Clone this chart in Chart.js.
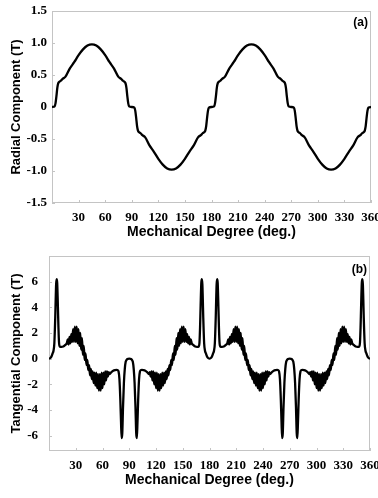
<!DOCTYPE html>
<html>
<head>
<meta charset="utf-8">
<script src="https://cdn.jsdelivr.net/npm/chart.js@4.4.1/dist/chart.umd.min.js"></script>
<style>
  html, body { margin: 0; padding: 0; background: #fff; }
  #wrap { position: relative; width: 378px; height: 498px; }
  canvas { position: absolute; left: 0; }
  #radial { top: 0; }
  #tangential { top: 249px; }
</style>
</head>
<body>
<div id="wrap">
  <canvas id="radial" width="378" height="249"></canvas>
  <canvas id="tangential" width="378" height="249"></canvas>
</div>
<script>
// x ticks shared by both panels
const degTicks = [30, 60, 90, 120, 150, 180, 210, 240, 270, 300, 330, 360];

// (a) radial component
const radialTicks = [-1.5, -1, -0.5, 0, 0.5, 1, 1.5];
const radialDeg = [
  0, 3, 4, 5, 6, 7, 8, 10, 12, 15, 20, 25, 30, 35, 40, 45, 50, 55, 60, 65, 70, 75, 78, 80, 82, 83, 84, 85, 86, 87, 90,
  93, 94, 95, 96, 97, 98, 100, 102, 105, 110, 115, 120, 125, 130, 135, 140, 145, 150, 155, 160, 165, 168, 170, 172, 173, 174, 175, 176, 177, 180,
  183, 184, 185, 186, 187, 188, 190, 192, 195, 200, 205, 210, 215, 220, 225, 230, 235, 240, 245, 250, 255, 258, 260, 262, 263, 264, 265, 266, 267, 270,
  273, 274, 275, 276, 277, 278, 280, 282, 285, 290, 295, 300, 305, 310, 315, 320, 325, 330, 335, 340, 345, 348, 350, 352, 353, 354, 355, 356, 357, 360
];
const radialVal = [
  0, 0.01, 0.06, 0.17, 0.3, 0.37, 0.39, 0.41, 0.44, 0.47, 0.6, 0.7, 0.81, 0.9, 0.96, 0.98, 0.96, 0.9, 0.81, 0.7, 0.6, 0.47, 0.44, 0.41, 0.39, 0.37, 0.3, 0.17, 0.06, 0.01, 0,
  -0.01, -0.06, -0.17, -0.3, -0.37, -0.39, -0.41, -0.44, -0.47, -0.6, -0.7, -0.81, -0.9, -0.96, -0.98, -0.96, -0.9, -0.81, -0.7, -0.6, -0.47, -0.44, -0.41, -0.39, -0.37, -0.3, -0.17, -0.06, -0.01, 0,
  0.01, 0.06, 0.17, 0.3, 0.37, 0.39, 0.41, 0.44, 0.47, 0.6, 0.7, 0.81, 0.9, 0.96, 0.98, 0.96, 0.9, 0.81, 0.7, 0.6, 0.47, 0.44, 0.41, 0.39, 0.37, 0.3, 0.17, 0.06, 0.01, 0,
  -0.01, -0.06, -0.17, -0.3, -0.37, -0.39, -0.41, -0.44, -0.47, -0.6, -0.7, -0.81, -0.9, -0.96, -0.98, -0.96, -0.9, -0.81, -0.7, -0.6, -0.47, -0.44, -0.41, -0.39, -0.37, -0.3, -0.17, -0.06, -0.01, 0
];

// (b) tangential component (ripple bands read as up/down envelope points)
const tanTicks = [-6, -4, -2, 0, 2, 4, 6];
const tanDeg = [
  0, 1, 2, 3, 4, 5, 6, 7, 7.5, 8, 8.6, 9.2, 10, 10.6, 11.2, 12, 14, 16, 18, 20,
  21, 22, 23, 24, 25, 26, 27, 28, 29, 30, 31, 32, 33, 34, 35, 36, 37, 38, 39, 40, 41, 42, 43, 44,
  45, 46, 47, 48, 49, 50, 51, 52, 53, 54, 55, 56, 57, 58, 59, 60, 61, 62, 63, 64, 65, 66, 67, 68,
  70, 72, 74, 76, 77, 78, 79, 80, 80.8, 81.5, 82.2, 83, 84, 85, 86, 87, 88, 90,
  92, 93, 94, 95, 96, 97, 97.8, 98.5, 99.2, 100, 101, 102, 103, 104, 106, 108, 110,
  112, 113, 114, 115, 116, 117, 118, 119, 120, 121, 122, 123, 124, 125, 126, 127, 128, 129, 130, 131, 132, 133, 134, 135,
  136, 137, 138, 139, 140, 141, 142, 143, 144, 145, 146, 147, 148, 149, 150, 151, 152, 153, 154, 155, 156, 157, 158, 159,
  160, 162, 164, 166, 168, 168.8, 169.4, 170, 170.8, 171.4, 172, 172.5, 173, 174, 175, 176, 177, 178, 179, 180,
  181, 182, 183, 184, 185, 186, 187, 187.5, 188, 188.6, 189.2, 190, 190.6, 191.2, 192, 194, 196, 198, 200,
  201, 202, 203, 204, 205, 206, 207, 208, 209, 210, 211, 212, 213, 214, 215, 216, 217, 218, 219, 220, 221, 222, 223, 224,
  225, 226, 227, 228, 229, 230, 231, 232, 233, 234, 235, 236, 237, 238, 239, 240, 241, 242, 243, 244, 245, 246, 247, 248,
  250, 252, 254, 256, 257, 258, 259, 260, 260.8, 261.5, 262.2, 263, 264, 265, 266, 267, 268, 270,
  272, 273, 274, 275, 276, 277, 277.8, 278.5, 279.2, 280, 281, 282, 283, 284, 286, 288, 290,
  292, 293, 294, 295, 296, 297, 298, 299, 300, 301, 302, 303, 304, 305, 306, 307, 308, 309, 310, 311, 312, 313, 314, 315,
  316, 317, 318, 319, 320, 321, 322, 323, 324, 325, 326, 327, 328, 329, 330, 331, 332, 333, 334, 335, 336, 337, 338, 339,
  340, 342, 344, 346, 348, 348.8, 349.4, 350, 350.8, 351.4, 352, 352.5, 353, 354, 355, 356, 357, 358, 359, 360
];
const tanVal = [
  0, 0.02, 0.08, 0.2, 0.4, 0.6, 1.2, 3.2, 4.6, 5.8, 6.2, 5.9, 4.0, 2.4, 1.3, 0.95, 0.92, 0.95, 1.05, 1.2,
  1.5, 1.1, 1.7, 1.2, 1.9, 1.3, 2.3, 1.3, 2.5, 1.3, 2.5, 1.2, 2.3, 1.0, 2.0, 0.7, 1.6, 0.3, 1.0, -0.1, 0.4, -0.5, -0.1, -0.9,
  -0.5, -1.3, -0.8, -1.6, -1.0, -1.9, -1.1, -2.1, -1.1, -2.3, -1.2, -2.5, -1.2, -2.5, -1.1, -2.3, -1.1, -2.0, -1.0, -1.7, -1.0, -1.4, -1.05, -1.2,
  -1.05, -0.95, -0.9, -0.88, -0.9, -1.0, -1.6, -3.2, -5.0, -6.2, -5.8, -3.8, -1.9, -0.8, -0.25, -0.1, -0.03, 0,
  -0.03, -0.1, -0.25, -0.8, -1.9, -3.8, -5.8, -6.2, -5.0, -3.2, -1.6, -1.0, -0.9, -0.88, -0.9, -0.95, -1.05,
  -1.2, -1.05, -1.4, -1.0, -1.7, -1.0, -2.0, -1.1, -2.3, -1.1, -2.5, -1.2, -2.5, -1.2, -2.3, -1.1, -2.1, -1.1, -1.9, -1.0, -1.6, -0.8, -1.3, -0.5,
  -0.9, -0.1, -0.5, 0.4, -0.1, 1.0, 0.3, 1.6, 0.7, 2.0, 1.0, 2.3, 1.2, 2.5, 1.3, 2.5, 1.3, 2.3, 1.3, 1.9, 1.2, 1.7, 1.1, 1.5,
  1.2, 1.05, 0.95, 0.92, 0.95, 1.3, 2.4, 4.0, 5.9, 6.2, 5.8, 4.6, 3.2, 1.2, 0.6, 0.4, 0.2, 0.08, 0.02, 0,
  0.02, 0.08, 0.2, 0.4, 0.6, 1.2, 3.2, 4.6, 5.8, 6.2, 5.9, 4.0, 2.4, 1.3, 0.95, 0.92, 0.95, 1.05, 1.2,
  1.5, 1.1, 1.7, 1.2, 1.9, 1.3, 2.3, 1.3, 2.5, 1.3, 2.5, 1.2, 2.3, 1.0, 2.0, 0.7, 1.6, 0.3, 1.0, -0.1, 0.4, -0.5, -0.1, -0.9,
  -0.5, -1.3, -0.8, -1.6, -1.0, -1.9, -1.1, -2.1, -1.1, -2.3, -1.2, -2.5, -1.2, -2.5, -1.1, -2.3, -1.1, -2.0, -1.0, -1.7, -1.0, -1.4, -1.05, -1.2,
  -1.05, -0.95, -0.9, -0.88, -0.9, -1.0, -1.6, -3.2, -5.0, -6.2, -5.8, -3.8, -1.9, -0.8, -0.25, -0.1, -0.03, 0,
  -0.03, -0.1, -0.25, -0.8, -1.9, -3.8, -5.8, -6.2, -5.0, -3.2, -1.6, -1.0, -0.9, -0.88, -0.9, -0.95, -1.05,
  -1.2, -1.05, -1.4, -1.0, -1.7, -1.0, -2.0, -1.1, -2.3, -1.1, -2.5, -1.2, -2.5, -1.2, -2.3, -1.1, -2.1, -1.1, -1.9, -1.0, -1.6, -0.8, -1.3, -0.5,
  -0.9, -0.1, -0.5, 0.4, -0.1, 1.0, 0.3, 1.6, 0.7, 2.0, 1.0, 2.3, 1.2, 2.5, 1.3, 2.5, 1.3, 2.3, 1.3, 1.9, 1.2, 1.7, 1.1, 1.5,
  1.2, 1.05, 0.95, 0.92, 0.95, 1.3, 2.4, 4.0, 5.9, 6.2, 5.8, 4.6, 3.2, 1.2, 0.6, 0.4, 0.2, 0.08, 0.02, 0
];

const serif = '"Liberation Serif", "Times New Roman", serif';
const sans = '"Liberation Sans", Arial, sans-serif';

// box, inward tick marks and the panel tag
const framePlugin = {
  id: 'frame',
  beforeDatasetsDraw(chart, args, opts) {
    const { ctx, chartArea: a, scales: { x, y } } = chart;
    ctx.save();
    ctx.strokeStyle = '#c4c4c4';
    ctx.lineWidth = 1;
    ctx.strokeRect(a.left + 0.5, a.top + 0.5, a.right - a.left - 1, a.bottom - a.top - 1);
    ctx.beginPath();
    degTicks.forEach((v) => {
      const px = Math.round(x.getPixelForValue(v)) + 0.5;
      ctx.moveTo(px, a.bottom);
      ctx.lineTo(px, a.bottom - 3);
    });
    y.ticks.forEach((t) => {
      const py = Math.round(y.getPixelForValue(t.value)) + 0.5;
      ctx.moveTo(a.left, py);
      ctx.lineTo(a.left + 3, py);
    });
    ctx.stroke();
    ctx.restore();
  },
  afterDraw(chart, args, opts) {
    const { ctx, chartArea: a } = chart;
    ctx.save();
    ctx.fillStyle = '#000';
    ctx.font = 'bold 12px ' + sans;
    ctx.textAlign = 'right';
    ctx.textBaseline = 'middle';
    ctx.fillText(opts.tag, a.right - 3, a.top + opts.tagY);
    ctx.restore();
  },
};

const renderChart = ({
  id,
  xValues,
  yValues,
  yMin,
  yMax,
  yTicks,
  yFormat,
  yTitle,
  tag,
  tagY,
  left,
  top,
  right,
  xHeight,
  yPad,
  xTitlePad,
}) => {
  const data = {
    datasets: [
      {
        data: xValues.map((d, i) => ({ x: d, y: yValues[i] })),
        borderColor: '#000',
        borderWidth: 2.3,
        pointRadius: 0,
        cubicInterpolationMode: 'monotone',
        fill: false,
      },
    ],
  };

  const options = {
    responsive: false,
    animation: false,
    devicePixelRatio: 1,
    layout: { padding: { top, right, left: 0, bottom: 0 } },
    plugins: {
      legend: { display: false },
      tooltip: { enabled: false },
      frame: { tag, tagY },
    },
    scales: {
      x: {
        type: 'linear',
        min: 0,
        max: 360,
        grid: { display: false, drawTicks: false },
        border: { display: false },
        afterBuildTicks: (s) => { s.ticks = degTicks.map((v) => ({ value: v })); },
        afterFit: (s) => {
          s.height = xHeight;
          s.paddingLeft = 0;
          s.paddingRight = 0;
        },
        ticks: {
          padding: 7,
          color: '#000',
          font: { family: serif, size: 13, weight: 'bold' },
          maxRotation: 0,
          autoSkip: false,
        },
        title: {
          display: true,
          text: 'Mechanical Degree (deg.)',
          color: '#000',
          font: { family: sans, size: 14, weight: 'bold' },
          padding: { top: 0, bottom: xTitlePad },
        },
      },
      y: {
        min: yMin,
        max: yMax,
        grid: { display: false, drawTicks: false },
        border: { display: false },
        afterBuildTicks: (s) => { s.ticks = yTicks.map((v) => ({ value: v })); },
        afterFit: (s) => {
          s.width = left;
          s.paddingTop = 0;
          s.paddingBottom = 0;
        },
        ticks: {
          padding: yPad,
          color: '#000',
          font: { family: serif, size: 13, weight: 'bold' },
          callback: yFormat,
        },
        title: {
          display: true,
          text: yTitle,
          color: '#000',
          font: { family: sans, size: 13, weight: 'bold' },
          padding: { top: 9, bottom: 0 },
        },
      },
    },
  };

  new Chart(`${id}`, {
    type: 'line',
    data,
    options,
    plugins: [framePlugin],
  });
};

renderChart({
  id: 'radial',
  xValues: radialDeg,
  yValues: radialVal,
  yMin: -1.5,
  yMax: 1.5,
  yTicks: radialTicks,
  yFormat: (v) => (v === 0 ? '0' : v.toFixed(1)),
  yTitle: 'Radial Component (T)',
  tag: '(a)',
  tagY: 12,
  left: 52,
  top: 11,
  right: 7,
  xHeight: 46,
  yPad: 5,
  xTitlePad: 8,
});

renderChart({
  id: 'tangential',
  xValues: tanDeg,
  yValues: tanVal,
  yMin: -7.2,
  yMax: 8,
  yTicks: tanTicks,
  yFormat: (v) => `${v}`,
  yTitle: 'Tangential Component (T)',
  tag: '(b)',
  tagY: 14,
  left: 49,
  top: 7,
  right: 8,
  xHeight: 47,
  yPad: 11,
  xTitlePad: 9,
});
</script>
</body>
</html>
